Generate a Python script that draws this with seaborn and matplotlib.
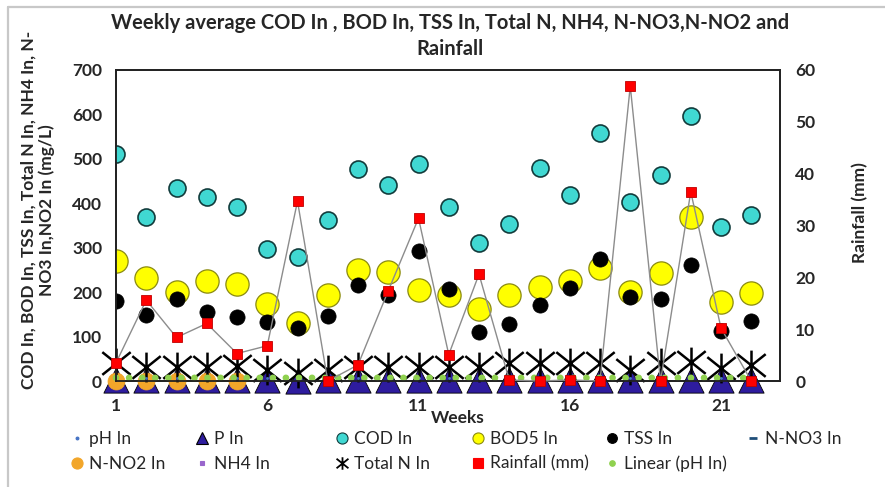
import numpy as np
import pandas as pd
import matplotlib
matplotlib.use("Agg")
import matplotlib.pyplot as plt
import seaborn as sns
from matplotlib.path import Path
from matplotlib.lines import Line2D

# ---------------- data ----------------
weeks = list(range(1, 23))
cod_in = [512, 370, 435, 415, 391, 296, 278, 362, 477, 441, 488, 391, 310, 353,
          479, 419, 559, 404, 464, 596, 347, 374]
bod5_in = [270, 231, 201, 224, 218, 173, 130, 193, 250, 246, 205, 194, 161, 194,
           211, 226, 254, 200, 242, 370, 178, 197]
tss_in = [181, 149, 184, 156, 143, 132, 120, 146, 216, 194, 293, 208, 110, 128,
          171, 209, 274, 188, 184, 261, 113, 136]
total_n_in = [41, 32, 32, 32, 33, 25, 17, 25, 32, 32, 32, 32, 32, 40,
              40, 40, 40, 25, 40, 42, 30, 36]
p_in = [3, 3, 3, 3, 3, 2, 0.5, 2, 3, 3, 3, 3, 3, 3,
        3, 3, 3, 3, 3, 3, 3, 3]
ph_in = [7.1, 7.0, 7.2, 7.1, 7.0, 7.2, 7.3, 7.1, 7.0, 7.2, 7.1, 7.0, 7.2, 7.1,
         7.3, 7.2, 7.1, 7.0, 7.2, 7.1, 7.2, 7.1]
n_no2_in = [0.5, 0.6, 0.5, 0.5, 0.6] + [np.nan] * 17
n_no3_in = [1.5, 1.2, 1.8, 1.4, 1.6, 1.3, 1.1, 1.5, 1.7, 1.4, 1.6, 1.2, 1.5, 1.3,
            1.4, 1.6, 1.5, 1.2, 1.4, 1.3, 1.5, 1.4]
nh4_in = [15, 14, 16, 15, 13, 14, 12, 15, 16, 14, 15, 13, 14, 15,
          16, 15, 14, 13, 15, 16, 14, 15]
rainfall_mm = [3.5, 15.6, 8.4, 11.1, 5.3, 6.8, 34.7, 0.0, 3.1, 17.4, 31.4, 5.1,
               20.6, 0.2, 0.0, 0.2, 0.0, 56.9, 0.0, 36.5, 10.2, 0.0]
x_ticks = [1, 6, 11, 16, 21]

df = pd.DataFrame({"week": weeks, "cod": cod_in, "bod": bod5_in, "tss": tss_in,
                   "totn": total_n_in, "p": p_in, "ph": ph_in, "no2": n_no2_in,
                   "no3": n_no3_in, "nh4": nh4_in, "rain": rainfall_mm})

# ---------------- style ----------------
sns.set_theme(style="white")
plt.rcParams["font.family"] = ["Lato", "DejaVu Sans"]
plt.rcParams["axes.edgecolor"] = "#222222"

W, H = 885, 487
fig = plt.figure(figsize=(W / 100, H / 100), dpi=100)
ax = fig.add_axes([116 / W, 1 - 381 / H, (780 - 116) / W, (381 - 70) / H])

navy = "#2E1C9E"
cyan = "#40D8D2"
yellow = "#FFFF00"
orange = "#F2A62A"
red = "#FF0000"
green = "#8FD14F"
phblue = "#4472C4"
purple = "#9966CC"

star = Path([(-1, -0.8), (1, 0.8), (-1, 0.8), (1, -0.8), (0, -1.05), (0, 1.05)],
            [Path.MOVETO, Path.LINETO] * 3)

# primary axis series
sns.scatterplot(data=df, x="week", y="cod", ax=ax, s=150, color=cyan,
                edgecolor="#123c3c", linewidth=1.2, zorder=3)
sns.scatterplot(data=df, x="week", y="bod", ax=ax, s=280, color=yellow,
                edgecolor="#8a8a10", linewidth=0.9, zorder=3)
sns.scatterplot(data=df, x="week", y="tss", ax=ax, s=120, color="black",
                edgecolor="black", linewidth=0.5, zorder=4)
sns.scatterplot(data=df, x="week", y="nh4", ax=ax, s=10, marker="s", color=purple,
                edgecolor=purple, zorder=2, clip_on=False)
sns.scatterplot(data=df, x="week", y="no3", ax=ax, s=30, marker="_", color="#1F4E79",
                zorder=2, clip_on=False)
sns.scatterplot(data=df, x="week", y="p", ax=ax, s=330, marker="^", color=navy,
                edgecolor="black", linewidth=0.6, zorder=5, clip_on=False)
sns.scatterplot(data=df, x="week", y="no2", ax=ax, s=150, color=orange,
                edgecolor=orange, linewidth=0.5, zorder=6, clip_on=False)
sns.scatterplot(data=df, x="week", y="totn", ax=ax, s=460, marker=star,
                facecolor="black", edgecolor="black", linewidth=1.8, zorder=7,
                clip_on=False)
sns.scatterplot(data=df, x="week", y="ph", ax=ax, s=4, color=phblue,
                edgecolor=phblue, zorder=7, clip_on=False)
sns.regplot(data=df, x="week", y="ph", ax=ax, scatter=False, ci=None, truncate=True,
            line_kws=dict(color=green, lw=4.8, ls=(0, (0.01, 1.95)),
                          dash_capstyle="round", zorder=8, clip_on=False))

ax.set_xlim(1, 22.95)
ax.set_ylim(0, 700)
ax.set_xticks(x_ticks)
ax.set_yticks(range(0, 701, 100))
ax.tick_params(axis="both", length=0, labelsize=12.5)
ax.tick_params(axis="x", pad=12)
ax.tick_params(axis="y", pad=10)
for lab in ax.get_xticklabels() + ax.get_yticklabels():
    lab.set_fontweight("bold")
for sp in ax.spines.values():
    sp.set_visible(True)
    sp.set_linewidth(1.3)
    sp.set_color("#222222")
ax.grid(False)

ax.set_xlabel("Weeks", fontsize=12.5, fontweight="bold", va="top")
ax.xaxis.set_label_coords(0.514, -0.092)
ax.set_ylabel("COD In, BOD In, TSS In, Total N In, NH4 In, N-\nNO3 In,NO2 In (mg/L)",
              fontsize=12.5, fontweight="bold", linespacing=1.1)
ax.yaxis.label.set_va("center")
ax.yaxis.label.set_ha("center")
ax.yaxis.set_label_coords(-0.118, 0.55)

# secondary axis: rainfall
ax2 = ax.twinx()
sns.lineplot(data=df, x="week", y="rain", ax=ax2, color="#8c8c8c", lw=1.0,
             marker="s", markersize=7.5, markerfacecolor=red,
             markeredgecolor="#c00000", markeredgewidth=0.6, clip_on=False,
             zorder=9)
ax2.set_ylim(0, 60)
ax2.set_yticks(range(0, 61, 10))
ax2.tick_params(axis="y", length=0, labelsize=12.5, pad=11)
for lab in ax2.get_yticklabels():
    lab.set_fontweight("bold")
for sp in ax2.spines.values():
    sp.set_linewidth(1.3)
    sp.set_color("#222222")
ax2.grid(False)
ax2.set_ylabel("Rainfall (mm)", fontsize=12.5, fontweight="bold", rotation=90)
ax2.yaxis.label.set_va("center")
ax2.yaxis.label.set_ha("center")
ax2.yaxis.set_label_coords(1.12, 0.543)
ax2.set_xlim(1, 22.95)

# title
fig.text(0.508, 1 - 13 / H,
         "Weekly average COD In , BOD In, TSS In, Total N, NH4, N-NO3,N-NO2 and\nRainfall",
         ha="center", va="top", fontsize=14.5, fontweight="bold", linespacing=1.35)

# legend (columns positioned like the original)
def h(marker, color, ms, mec=None, ls="none", lw=0, mew=0.8, **kw):
    return Line2D([], [], marker=marker, color=color, ls=ls, lw=lw, markersize=ms,
                  markerfacecolor=color, markeredgecolor=mec or color,
                  markeredgewidth=mew, **kw)

cols = [
    (71, [(h("o", phblue, 2), "pH In"), (h("o", orange, 8), "N-NO2 In")]),
    (196, [(h("^", navy, 9, mec="black"), "P In"), (h("s", purple, 3.5), "NH4 In")]),
    (336, [(h("o", cyan, 8, mec="#123c3c"), "COD In"),
           (h(star, "black", 9, mec="black", mew=1.3), "Total N In")]),
    (472, [(h("o", yellow, 8, mec="#8a8a10"), "BOD5 In"),
           (h("s", red, 7), "Rainfall (mm)")]),
    (606, [(h("o", "black", 7), "TSS In"), (h("o", green, 4), "Linear (pH In)")]),
    (747, [(h("_", "#1F4E79", 6, mew=2), "N-NO3 In")]),
]
for x0, items in cols:
    fig.legend([i[0] for i in items], [i[1] for i in items], loc="upper left",
               bbox_to_anchor=(x0 / W, 1 - 431 / H), frameon=False, fontsize=12.5,
               handlelength=0.7, handletextpad=0.35, borderpad=0, borderaxespad=0,
               labelspacing=0.5)

# light chart-area border (top and left edges)
fig.add_artist(Line2D([8 / W, 1.0], [1 - 7 / H, 1 - 7 / H], color="#c8c8c8", lw=1.6,
                      transform=fig.transFigure))
fig.add_artist(Line2D([8 / W, 8 / W], [0.0, 1 - 7 / H], color="#c8c8c8", lw=1.6,
                      transform=fig.transFigure))

fig.savefig("out.png", dpi=100)
